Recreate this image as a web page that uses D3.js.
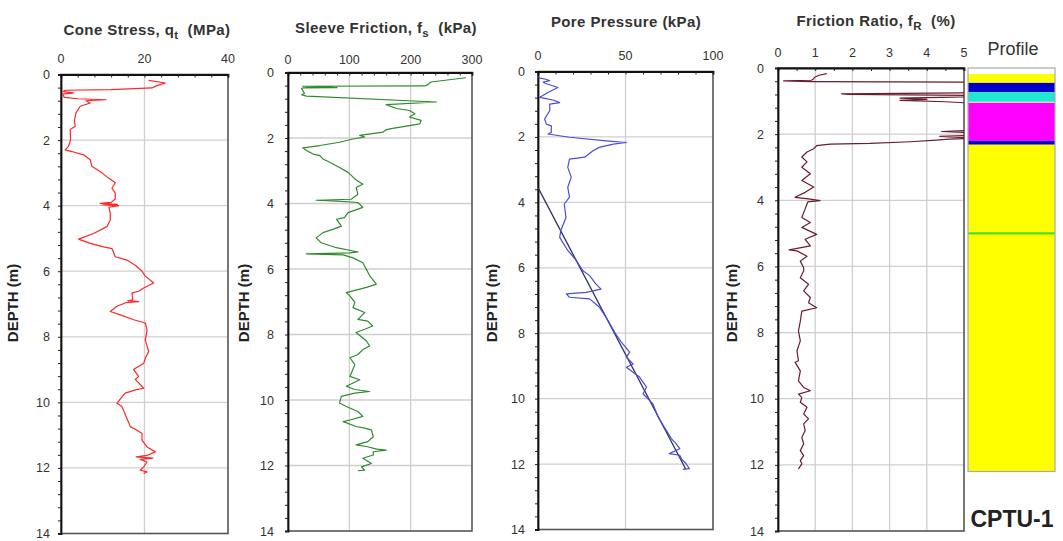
<!DOCTYPE html>
<html><head><meta charset="utf-8">
<script src="https://cdn.jsdelivr.net/npm/d3@7"></script>
<style>body{margin:0;background:#fff}svg{display:block;font-family:Arial,"Liberation Sans",sans-serif}text{white-space:pre}</style>
</head><body><svg id="c" width="1063" height="541"></svg>
<script>
// ---------------- DATA ----------------
const depthTicks = [0, 2, 4, 6, 8, 10, 12, 14];
const qtTicks = [0, 20, 40];
const fsTicks = [0, 100, 200, 300];
const uTicks = [0, 50, 100];
const rfTicks = [0, 1, 2, 3, 4, 5];

// [depth (m), cone stress qt (MPa)]
const qtData = [[0.18,21],[0.26,25],[0.34,23],[0.41,21.8],[0.46,12],[0.48,1],[0.52,0.5],[0.56,3],[0.6,0.4],[0.7,0.8],[0.74,4],[0.77,10.8],[0.8,6],[0.87,7],[0.97,4.6],[1.17,3.6],[1.4,3.2],[1.58,3.4],[1.68,2.2],[1.99,2.3],[2.19,1.8],[2.3,1],[2.35,2.6],[2.45,5.4],[2.6,7],[2.8,7.4],[3.0,9.8],[3.16,11.4],[3.3,13],[3.47,12.2],[3.62,13],[3.8,13],[3.9,12],[3.93,9.4],[3.96,13.5],[3.98,10],[4.0,13.8],[4.05,11.5],[4.23,11.8],[4.44,11.8],[4.64,11],[4.85,7.8],[5.02,4.2],[5.15,7],[5.26,10.2],[5.31,12.2],[5.56,13],[5.66,15.8],[5.82,17.8],[6.0,19.4],[6.15,20.2],[6.36,22.2],[6.51,19.8],[6.61,18.6],[6.66,17],[6.87,17.2],[6.9,16],[6.93,18.6],[6.96,15.5],[7.07,13.4],[7.23,11.8],[7.33,14.2],[7.48,17.4],[7.58,20.2],[7.79,20.6],[8.1,20.2],[8.45,21],[8.65,20.2],[8.81,19.8],[9.0,17.4],[9.21,18.6],[9.3,17.8],[9.57,19.8],[9.62,17.8],[9.72,15.4],[9.83,14.6],[10.03,13.4],[10.13,14.6],[10.49,15.8],[10.74,16.6],[10.85,18.2],[10.95,19.4],[11.15,19.4],[11.36,20.6],[11.51,22.6],[11.62,20.6],[11.66,18],[11.7,22],[11.74,19],[11.82,20.6],[11.97,19.8],[12.07,19],[12.12,20.6],[12.17,19.8]];

// [depth (m), sleeve friction fs (kPa)]
const fsData = [[0.16,290],[0.29,233],[0.37,228],[0.41,223],[0.42,24],[0.43,73],[0.45,30],[0.46,80],[0.47,25],[0.49,22],[0.64,27],[0.68,22],[0.72,30],[0.9,242],[0.98,160],[1.1,177],[1.16,198],[1.26,207],[1.36,198],[1.46,217],[1.57,215],[1.64,193],[1.72,166],[1.75,160],[1.82,155],[1.92,117],[1.97,125],[2.03,106],[2.13,84],[2.23,52],[2.3,24],[2.38,30],[2.49,41],[2.54,52],[2.64,57],[2.74,68],[2.9,84],[3.05,98],[3.25,109],[3.41,122],[3.51,111],[3.72,114],[3.87,103],[3.9,46],[3.93,80],[3.97,114],[4.12,122],[4.28,98],[4.43,92],[4.48,79],[4.69,87],[4.79,73],[4.89,57],[5.05,46],[5.2,54],[5.35,79],[5.48,114],[5.51,101],[5.54,30],[5.57,90],[5.66,106],[5.81,122],[6.02,128],[6.2,133],[6.46,144],[6.56,128],[6.72,95],[6.82,101],[7.02,109],[7.18,106],[7.33,125],[7.54,114],[7.59,130],[7.74,138],[7.84,125],[7.94,111],[8.2,128],[8.35,133],[8.46,122],[8.61,114],[8.71,101],[8.92,109],[9.28,101],[9.38,117],[9.58,95],[9.68,109],[9.74,133],[9.79,109],[9.89,87],[10.09,84],[10.2,95],[10.35,114],[10.5,122],[10.61,101],[10.66,90],[10.81,111],[10.86,125],[10.91,136],[11.12,139],[11.27,130],[11.37,111],[11.42,128],[11.5,145],[11.53,160],[11.58,139],[11.68,139],[11.78,122],[11.94,136],[12.04,120],[12.14,125],[12.16,114]];

// [depth (m), pore pressure u (kPa)]
const uData = [[0.16,0],[0.2,1],[0.23,3.8],[0.28,6.7],[0.32,2.9],[0.36,4],[0.49,11.4],[0.64,5.7],[0.79,1],[0.82,4],[0.88,9],[0.95,12.4],[1.0,6.7],[1.2,6.7],[1.45,3.8],[1.61,4.8],[1.66,7.6],[1.86,7.6],[1.91,5.7],[2.01,18],[2.12,39],[2.17,50.5],[2.22,43],[2.32,35],[2.42,31.4],[2.62,26.7],[2.68,18],[2.93,17],[3.23,19],[3.54,17],[3.84,18],[4.05,15],[4.46,16],[4.86,13],[5.07,12.4],[5.47,17],[5.75,21.5],[6.09,25.7],[6.24,29.5],[6.49,33],[6.65,36],[6.75,27.6],[6.8,16.2],[6.9,18],[6.95,29.5],[7.2,35],[7.61,40],[7.97,43.8],[8.27,47.6],[8.58,52.4],[8.73,50.5],[8.94,54.3],[9.04,50.5],[9.34,58],[9.65,62],[9.85,60],[10.16,65.7],[10.56,68.6],[10.97,73.3],[11.22,76.2],[11.38,79],[11.53,81],[11.68,75],[11.73,81],[11.84,82],[11.99,84.6],[12.14,86.5],[12.16,82.7]];

// hydrostatic pore pressure line [depth, kPa]
const u0Data = [[3.55,0],[12.15,84.4]];

// [depth (m), friction ratio Rf (%)]  (values > 5 run off the chart)
const rfData = [[0.17,1.31],[0.22,1.1],[0.27,1.0],[0.33,0.95],[0.37,0.9],[0.39,0.15],[0.41,0.9],[0.43,5.3],[0.75,5.3],[0.78,1.71],[0.8,1.9],[0.83,5.3],[0.87,5.3],[0.89,4.35],[0.91,3.28],[0.95,4.0],[0.98,3.28],[1.02,4.5],[1.07,5.3],[1.88,5.3],[1.92,4.4],[1.96,5.3],[2.03,5.3],[2.07,4.35],[2.12,5.3],[2.15,4.6],[2.18,4.26],[2.23,3.55],[2.28,2.47],[2.3,1.4],[2.35,1.04],[2.44,0.96],[2.54,0.78],[2.69,0.64],[2.84,0.78],[3.0,0.64],[3.2,0.87],[3.4,0.64],[3.6,0.96],[3.76,0.73],[3.91,0.46],[3.96,0.82],[4.01,1.13],[4.05,0.8],[4.26,0.73],[4.52,0.64],[4.67,0.87],[4.82,0.64],[5.03,1.04],[5.18,0.73],[5.38,0.87],[5.5,0.3],[5.53,0.51],[5.69,0.78],[5.84,0.6],[6.04,0.69],[6.14,0.69],[6.34,0.6],[6.54,0.82],[6.74,0.69],[6.94,0.87],[7.1,0.82],[7.25,1.04],[7.35,0.64],[7.65,0.6],[7.95,0.55],[8.25,0.6],[8.55,0.51],[8.85,0.55],[8.9,0.46],[9.16,0.6],[9.46,0.55],[9.66,0.69],[9.76,0.87],[9.86,0.55],[9.96,0.64],[10.11,0.6],[10.26,0.78],[10.46,0.69],[10.61,0.82],[10.76,0.69],[10.96,0.73],[11.17,0.64],[11.37,0.69],[11.57,0.6],[11.72,0.69],[11.87,0.6],[11.97,0.64],[12.12,0.55]];

// soil profile layers
const layerTop    = [0.18, 0.45, 0.73, 1.05, 2.2, 2.32, 4.97];
const layerBottom = [0.45, 0.73, 1.02, 2.2, 2.32, 12.2, 5.03];
const layerZone   = ["sand", "clay", "silt", "organic", "clay", "sand", "sand-silt"];
const profileBottom = 12.2;

// ---------------- LAYOUT / STYLE ----------------
const zoneColor = d3.scaleOrdinal()
  .domain(["sand", "clay", "silt", "organic", "sand-silt"])
  .range(["#ffff00", "#0000c8", "#20e8d0", "#ff00ff", "#33dd33"]);

const svg = d3.select("#c");
const panels = [
  {data: qtData, dom: [0, 40], ticks: qtTicks, minor: 4, x0: 61, x1: 228, y0: 74.5, y1: 533.5,
   color: "#ff2626", title: ["Cone Stress, q", "t", "  (MPa)"], tx: 147, ty: 35, lby: 63, lyOff: 11, depX: 18},
  {data: fsData, dom: [0, 300], ticks: fsTicks, minor: 20, x0: 288, x1: 472, y0: 72.5, y1: 531,
   color: "#2f8a2f", title: ["Sleeve Friction, f", "s", "  (kPa)"], tx: 386, ty: 33, lby: 64, lyOff: 14, depX: 249},
  {data: uData, dom: [0, 100], ticks: uTicks, minor: 10, x0: 538, x1: 713, y0: 71.5, y1: 529.5,
   color: "#4b4bdc", title: ["Pore Pressure (kPa)"], tx: 626, ty: 27, lby: 60, lyOff: 13, depX: 497},
  {data: rfData, dom: [0, 5], ticks: rfTicks, minor: 0.5, x0: 778, x1: 964, y0: 68, y1: 531,
   color: "#6a1c2c", title: ["Friction Ratio, f", "R", "  (%)"], tx: 876, ty: 26, lby: 57, lyOff: 14, depX: 737}
];

panels.forEach((p, i) => {
  const x = d3.scaleLinear().domain(p.dom).range([p.x0, p.x1]);
  const y = d3.scaleLinear().domain([0, 14]).range([p.y0, p.y1]);
  const g = svg.append("g");
  const cid = "clip" + i;
  svg.append("clipPath").attr("id", cid).append("rect")
    .attr("x", p.x0).attr("y", p.y0).attr("width", p.x1 - p.x0).attr("height", p.y1 - p.y0);

  // grid
  g.selectAll(".vg").data(p.ticks.slice(1, -1)).join("line")
    .attr("x1", d => x(d)).attr("x2", d => x(d)).attr("y1", p.y0).attr("y2", p.y1)
    .attr("stroke", "#cfcfcf").attr("stroke-width", 1.3);
  g.selectAll(".hg").data(depthTicks.slice(1, -1)).join("line")
    .attr("x1", p.x0).attr("x2", p.x1).attr("y1", d => y(d)).attr("y2", d => y(d))
    .attr("stroke", "#cfcfcf").attr("stroke-width", 1.3);

  // frame
  g.append("rect").attr("x", p.x0).attr("y", p.y0).attr("width", p.x1 - p.x0).attr("height", p.y1 - p.y0)
    .attr("fill", "none").attr("stroke", "#555").attr("stroke-width", 1.6);

  // axes: top (x) and left (depth)
  const xMinor = d3.range(p.dom[0], p.dom[1] + 1e-9, p.minor);
  const xa = g.append("g").attr("transform", `translate(0,${p.y0})`)
    .call(d3.axisTop(x).tickValues(xMinor).tickSize(-3).tickFormat(""));
  xa.select(".domain").attr("stroke", "#111").attr("stroke-width", 1.8);
  xa.selectAll(".tick line").attr("stroke", "#222");
  g.selectAll(".xl").data(p.ticks).join("text")
    .attr("x", d => x(d)).attr("y", p.lby).attr("text-anchor", "middle")
    .attr("font-size", 12.5).attr("fill", "#333").text(d => d);

  const yMinor = d3.range(0, 14.0001, 0.4);
  const ya = g.append("g").attr("transform", `translate(${p.x0},0)`)
    .call(d3.axisLeft(y).tickValues(yMinor).tickSize(3).tickFormat(""));
  ya.select(".domain").attr("stroke", "#111").attr("stroke-width", 1.8);
  ya.selectAll(".tick line").attr("stroke", "#222");
  g.selectAll(".yl").data(depthTicks).join("text")
    .attr("x", p.x0 - p.lyOff).attr("y", d => y(d) + 4.5).attr("text-anchor", "end")
    .attr("font-size", 12.5).attr("fill", "#333").text(d => d);

  // title
  const t = g.append("text").attr("x", p.tx).attr("y", p.ty).attr("text-anchor", "middle")
    .attr("xml:space", "preserve")
    .attr("font-size", 15).attr("letter-spacing", 0.4).attr("font-weight", "bold").attr("fill", "#333");
  t.append("tspan").text(p.title[0]);
  if (p.title.length > 1) {
    t.append("tspan").attr("font-size", 11.5).attr("dy", 4).text(p.title[1]);
    t.append("tspan").attr("dy", -4).text(p.title[2]);
  }

  // depth label
  g.append("text").attr("transform", `translate(${p.depX},303) rotate(-90)`)
    .attr("text-anchor", "middle").attr("font-size", 15).attr("font-weight", "bold")
    .attr("fill", "#222").text("DEPTH (m)");

  const line = d3.line().x(d => x(d[1])).y(d => y(d[0]));
  const plot = g.append("g").attr("clip-path", `url(#${cid})`);
  if (i === 2) {
    plot.append("path").datum(u0Data).attr("d", line).attr("fill", "none")
      .attr("stroke", "#2e3060").attr("stroke-width", 1.3);
  }
  plot.append("path").datum(p.data).attr("d", line).attr("fill", "none")
    .attr("stroke", p.color).attr("stroke-width", 1.2).attr("stroke-linejoin", "round");

  if (i === 3) {
    // soil profile column shares this depth scale
    const px0 = 968, px1 = 1055;
    const pg = svg.append("g");
    pg.append("rect").attr("x", px0).attr("y", y(0)).attr("width", px1 - px0)
      .attr("height", y(profileBottom) - y(0)).attr("fill", "#fff");
    pg.selectAll(".ly").data(layerTop.map((t, k) => ({t, b: layerBottom[k], z: layerZone[k]})))
      .join("rect").attr("x", px0).attr("width", px1 - px0)
      .attr("y", d => y(d.t)).attr("height", d => y(d.b) - y(d.t))
      .attr("fill", d => zoneColor(d.z));
    pg.append("rect").attr("x", px0).attr("y", y(0)).attr("width", px1 - px0)
      .attr("height", y(profileBottom) - y(0)).attr("fill", "none")
      .attr("stroke", "#aaa").attr("stroke-width", 1.2);
    pg.append("text").attr("x", 1013).attr("y", 55).attr("text-anchor", "middle")
      .attr("font-size", 18).attr("fill", "#333").text("Profile");
    pg.append("text").attr("x", 1012).attr("y", 527).attr("text-anchor", "middle")
      .attr("font-size", 23).attr("font-weight", "bold").attr("fill", "#222").text("CPTU-1");
  }
});
</script></body></html>
